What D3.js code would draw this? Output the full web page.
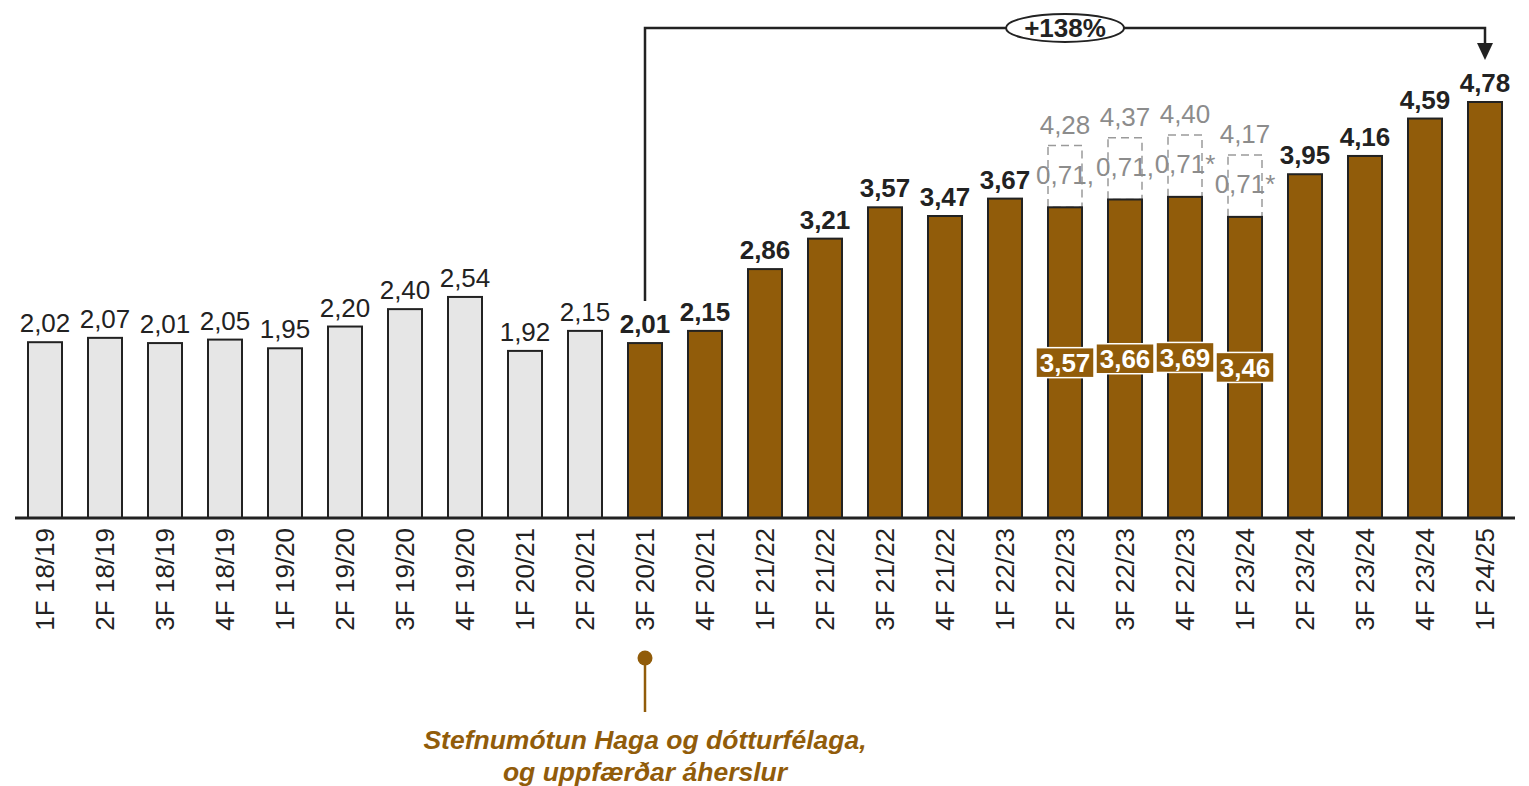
<!DOCTYPE html>
<html>
<head>
<meta charset="utf-8">
<script src="https://cdn.jsdelivr.net/npm/d3@7"></script>
<style>
  body { margin: 0; background: #fff; }
  svg text { font-family: "Liberation Sans", Arial, sans-serif; }
</style>
</head>
<body>
<div id="chart"></div>
<script>

// categories (quarters) and values
var categories = ["1F 18/19","2F 18/19","3F 18/19","4F 18/19","1F 19/20","2F 19/20","3F 19/20","4F 19/20",
  "1F 20/21","2F 20/21","3F 20/21","4F 20/21","1F 21/22","2F 21/22","3F 21/22","4F 21/22",
  "1F 22/23","2F 22/23","3F 22/23","4F 22/23","1F 23/24","2F 23/24","3F 23/24","4F 23/24","1F 24/25"];
var values = [2.02,2.07,2.01,2.05,1.95,2.20,2.40,2.54,1.92,2.15,2.01,2.15,2.86,3.21,3.57,3.47,
  3.67,3.57,3.66,3.69,3.46,3.95,4.16,4.59,4.78];

// adjustment quarters (0,71* on top)
var adjCats = ["2F 22/23","3F 22/23","4F 22/23","1F 23/24"];
var adjValue = 0.71;
var adjTotals = [4.28,4.37,4.40,4.17];

var firstNew = "3F 20/21";   // strategy start
var growthLabel = "+138%";
var noteLines = ["Stefnumótun Haga og dótturfélaga,", "og uppfærðar áherslur"];

var W = 1529, H = 786;
var base = 518;
var brown = "#915c0a", dark = "#222", grey = "#8c8c8c";
var fs = 26;

var fmt = function(v) { return d3.format(".2f")(v).replace(".", ","); };

var svg = d3.select("#chart").append("svg")
    .attr("width", W).attr("height", H);

var x = d3.scaleBand().domain(categories).range([15, 1515]).padding(0);
var y = d3.scaleLinear().domain([0, d3.max(values)]).range([base, 102]);
var bw = 34;
var cx = function(c) { return x(c) + x.bandwidth() / 2; };
var newIdx = categories.indexOf(firstNew);

var data = categories.map(function(c, i) {
  var a = adjCats.indexOf(c);
  return {cat: c, v: values[i], isNew: i >= newIdx, adj: a >= 0 ? adjTotals[a] : null};
});
var adj = data.filter(function(d) { return d.adj !== null; });

// dashed adjustment boxes
svg.selectAll(".adjbox").data(adj).enter().append("rect")
    .attr("x", function(d) { return cx(d.cat) - bw / 2; })
    .attr("y", function(d) { return y(d.v + adjValue); })
    .attr("width", bw)
    .attr("height", function(d) { return y(d.v) - y(d.v + adjValue); })
    .attr("fill", "none").attr("stroke", "#9a9a9a")
    .attr("stroke-width", 1.5).attr("stroke-dasharray", "8,5");

// bars
svg.selectAll(".bar").data(data).enter().append("rect")
    .attr("x", function(d) { return cx(d.cat) - bw / 2; })
    .attr("y", function(d) { return y(d.v); })
    .attr("width", bw)
    .attr("height", function(d) { return base - y(d.v); })
    .attr("fill", function(d) { return d.isNew ? brown : "#e6e6e6"; })
    .attr("stroke", dark).attr("stroke-width", 2);

svg.selectAll(".adjlab").data(adj).enter().append("text")
    .attr("x", function(d) { return cx(d.cat); })
    .attr("y", function(d) { return y(d.v + adjValue) + 38; })
    .attr("text-anchor", "middle")
    .attr("font-size", fs).attr("fill", grey)
    .text(function(d, i) { return fmt(adjValue) + (i < 2 ? "," : "*"); });

svg.selectAll(".adjtot").data(adj).enter().append("text")
    .attr("x", function(d) { return cx(d.cat); })
    .attr("y", function(d) { return y(d.adj) - 12; })
    .attr("text-anchor", "middle")
    .attr("font-size", fs).attr("fill", grey)
    .text(function(d) { return fmt(d.adj); });

// value labels above bars (not for adjusted ones)
svg.selectAll(".val").data(data.filter(function(d) { return d.adj === null; })).enter().append("text")
    .attr("x", function(d) { return cx(d.cat); })
    .attr("y", function(d) { return y(d.v) - 10; })
    .attr("text-anchor", "middle")
    .attr("font-size", fs)
    .attr("font-weight", function(d) { return d.isNew ? "bold" : "normal"; })
    .attr("fill", dark)
    .text(function(d) { return fmt(d.v); });

// value labels inside adjusted bars
var inner = svg.selectAll(".inner").data(adj).enter().append("g")
    .attr("transform", function(d) { return "translate(" + cx(d.cat) + "," + y(d.v / 2) + ")"; });
inner.append("rect")
    .attr("x", -29).attr("y", -15).attr("width", 58).attr("height", 30)
    .attr("fill", brown).attr("stroke", "#fff").attr("stroke-width", 1.5);
inner.append("text")
    .attr("text-anchor", "middle").attr("dy", "0.36em")
    .attr("font-size", fs).attr("font-weight", "bold").attr("fill", "#fff")
    .text(function(d) { return fmt(d.v); });

// x axis
svg.append("line")
    .attr("x1", 15).attr("x2", 1515).attr("y1", base).attr("y2", base)
    .attr("stroke", dark).attr("stroke-width", 3);

svg.selectAll(".tick").data(categories).enter().append("text")
    .attr("transform", function(c) { return "translate(" + cx(c) + "," + (base + 10) + ") rotate(-90)"; })
    .attr("text-anchor", "end").attr("dy", "0.36em")
    .attr("font-size", fs).attr("fill", dark)
    .text(function(c) { return c; });

// growth bracket
var x0 = cx(firstNew), x1 = cx(categories[categories.length - 1]);
var yTop = 28;
svg.append("path")
    .attr("d", "M" + x0 + "," + (y(values[newIdx]) - 42) + "V" + yTop + "H" + x1 + "V" + 44)
    .attr("fill", "none").attr("stroke", dark).attr("stroke-width", 2.5);
svg.append("path")
    .attr("d", "M" + (x1 - 8) + ",43L" + (x1 + 8) + ",43L" + x1 + ",60Z")
    .attr("fill", dark);
var gx = (x0 + x1) / 2;
svg.append("ellipse")
    .attr("cx", gx).attr("cy", yTop).attr("rx", 59).attr("ry", 14)
    .attr("fill", "#fff").attr("stroke", dark).attr("stroke-width", 2);
svg.append("text")
    .attr("x", gx).attr("y", yTop).attr("dy", "0.36em")
    .attr("text-anchor", "middle").attr("font-size", 26).attr("font-weight", "bold")
    .attr("fill", dark).text(growthLabel);

// strategy note
svg.append("line")
    .attr("x1", x0).attr("x2", x0).attr("y1", 658).attr("y2", 712)
    .attr("stroke", brown).attr("stroke-width", 2.5);
svg.append("circle")
    .attr("cx", x0).attr("cy", 658).attr("r", 7.5).attr("fill", brown);
svg.selectAll(".note").data(noteLines).enter().append("text")
    .attr("x", x0).attr("y", function(d, i) { return 749 + i * 32; })
    .attr("text-anchor", "middle")
    .attr("font-size", 26.5).attr("font-weight", "bold").attr("font-style", "italic")
    .attr("fill", brown)
    .text(function(d) { return d; });

</script>
</body>
</html>
